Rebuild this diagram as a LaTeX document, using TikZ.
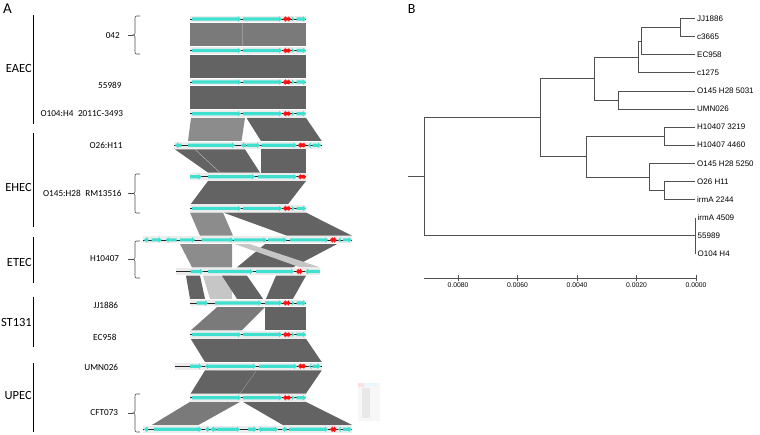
\documentclass[tikz,border=0pt]{standalone}
\usepackage{fontspec}
\setmainfont{Carlito}
\newfontfamily\arialfont{Liberation Sans}
\usepackage{tikz}
\usetikzlibrary{positioning,calc}

\definecolor{genecyan}{HTML}{40E0D0}
\definecolor{redgene}{HTML}{FF1010}
\definecolor{banddark}{HTML}{636363}
\definecolor{bandmid}{HTML}{7A7A7A}
\definecolor{bandlight}{HTML}{8C8C8C}
\definecolor{bandpale}{HTML}{C6C6C6}
\definecolor{treeline}{HTML}{505050}

% gene arrows on a track: {y}{x from}{x to}
\newcommand{\genefw}[3]{\fill[genecyan] (#2,#1-1.6) -- (#3-3,#1-1.6) -- (#3-3,#1-2.8) -- (#3,#1) -- (#3-3,#1+2.8) -- (#3-3,#1+1.6) -- (#2,#1+1.6) -- cycle;}
\newcommand{\genebw}[3]{\fill[genecyan] (#3,#1-1.6) -- (#2+3,#1-1.6) -- (#2+3,#1-2.8) -- (#2,#1) -- (#2+3,#1+2.8) -- (#2+3,#1+1.6) -- (#3,#1+1.6) -- cycle;}
\newcommand{\genedbl}[3]{\fill[redgene] (#2,#1) -- (#2+2.5,#1-2.9) -- (#2+2.5,#1-1.7) -- (#3-2.5,#1-1.7) -- (#3-2.5,#1-2.9) -- (#3,#1) -- (#3-2.5,#1+2.9) -- (#3-2.5,#1+1.7) -- (#2+2.5,#1+1.7) -- (#2+2.5,#1+2.9) -- cycle;}
\newcommand{\trackbar}[3]{\fill[gray!15] (#2,#1-3.4) rectangle (#3,#1+3.4); \draw[black!85, line width=0.6pt] (#2,#1) -- (#3,#1);}
\newcommand{\stdgenes}[1]{\trackbar{#1}{190}{306}\genefw{#1}{192}{241}\genefw{#1}{243}{282}\genedbl{#1}{283}{291}\genefw{#1}{292}{294.5}\genefw{#1}{296.5}{306}}
% homology band: {colour}{upper track y}{lower track y}{top left}{top right}{bottom left}{bottom right}
\newcommand{\bandpoly}[7]{\fill[#1] (#4,#2+4.2) -- (#5,#2+4.2) -- (#7,#3-4.2) -- (#6,#3-4.2) -- cycle;}
% brace: {top}{bottom}
\newcommand{\strainbrace}[2]{\pgfmathsetmacro\bmid{(#1+#2)/2}
  \draw[bracestyle] (140,#1) -- (136.5,#1) to[out=180,in=90] (135,#1+2) -- (135,\bmid-2) to[out=-90,in=0] (133,\bmid) to[out=0,in=90] (135,\bmid+2) -- (135,#2-2) to[out=-90,in=180] (136.5,#2) -- (140,#2);
  \draw[bracestyle] (128,\bmid) -- (133,\bmid);}

\begin{document}
\begin{tikzpicture}[x=1pt,y=-1pt,
  grouplab/.style={anchor=east, font=\fontsize{12.5}{14}\selectfont, inner sep=0.5pt},
  strainlab/.style={anchor=east, font=\fontsize{9.2}{11}\selectfont, inner sep=0pt},
  panellab/.style={font=\fontsize{15}{17}\selectfont, inner sep=0pt},
  groupbar/.style={line width=1.2pt},
  bracestyle/.style={draw=black!70, line width=0.6pt},
  leaf/.style={anchor=west, font=\arialfont\fontsize{8}{9}\selectfont, inner xsep=2pt, inner ysep=0pt},
  treeedge/.style={draw=treeline, line width=0.7pt},
  ticklab/.style={anchor=north, font=\arialfont\fontsize{6.8}{8}\selectfont, inner sep=0pt}]
\useasboundingbox (0,0) rectangle (760,435);

% panel A
\node[panellab] (panA) at (7.5,8.3) {A};

\draw[groupbar] (33.5,15) -- (33.5,124);
\draw[groupbar] (33.5,133) -- (33.5,227);
\draw[groupbar] (33.5,237) -- (33.5,283);
\draw[groupbar] (33.5,297) -- (33.5,347);
\draw[groupbar] (33.5,363) -- (33.5,432);
\node[grouplab] (eaec) at (32.5,68) {EAEC};
\node[grouplab] (ehec) at (32.5,187) {EHEC};
\node[grouplab] (etec) at (32.5,262) {ETEC};
\node[grouplab] (st131) at (32.5,322) {ST131};
\node[grouplab] (upec) at (32.5,395) {UPEC};

\node[strainlab] (s042) at (120,36) {042};
\node[strainlab] (s55989) at (121.7,85) {55989};
\node[strainlab] (sO104) at (123.3,113.3) {O104:H4\hspace{0.5em}2011C-3493};
\node[strainlab] (sO26) at (122.7,145) {O26:H11};
\node[strainlab] (sO145) at (121.7,193) {O145:H28\hspace{0.5em}RM13516};
\node[strainlab] (sH10407) at (119.3,259) {H10407};
\node[strainlab] (sJJ) at (118.3,305) {JJ1886};
\node[strainlab] (sEC) at (116.7,337) {EC958};
\node[strainlab] (sUMN) at (118.3,367) {UMN026};
\node[strainlab] (sCFT) at (118.3,413) {CFT073};

\strainbrace{16}{54}
\strainbrace{174}{213}
\strainbrace{241}{278}
\strainbrace{394}{432}

\def\ya{19}\def\yb{50.6}\def\yc{82.1}\def\yd{113.7}\def\ye{145.2}\def\yf{176.8}\def\yg{208.4}
\def\yh{239.9}\def\yi{271.5}\def\yj{303}\def\yk{334.6}\def\yl{366.2}\def\ym{397.7}\def\yn{429.3}

% bands
\bandpoly{bandmid}{\ya}{\yb}{190}{306}{190}{306}
\draw[black!40, line width=0.4pt] (241.7,\ya+4.2) -- (241.7,\yb-4.2);
\bandpoly{banddark}{\yb}{\yc}{190}{306}{190}{306}
\bandpoly{banddark}{\yc}{\yd}{190}{306}{190}{306}
\bandpoly{bandlight}{\yd}{\ye}{191}{245}{188}{241.5}
\bandpoly{banddark}{\yd}{\ye}{246.5}{306}{261}{321.7}
\bandpoly{banddark}{\ye}{\yf}{175}{245}{208}{260}
\draw[black!25, line width=0.4pt] (195,\ye+4.2) -- (220,\yf-4.2);
\bandpoly{banddark}{\ye}{\yf}{261}{306}{261}{306}
\bandpoly{banddark}{\yf}{\yg}{208}{306}{190.7}{288}
\bandpoly{bandlight}{\yg}{\yh}{190}{223}{200}{233}
\bandpoly{banddark}{\yg}{\yh}{223.5}{306}{287}{352}
\bandpoly{bandlight}{\yh}{\yi}{180}{232}{192}{232}
\bandpoly{banddark}{\yh}{\yi}{265}{337}{237}{293}
\bandpoly{bandpale}{\yh}{\yi}{235}{250}{300}{320}
\bandpoly{banddark}{\yi}{\yj}{186}{200}{190}{205}
\bandpoly{bandpale}{\yi}{\yj}{203}{232}{210}{232}
\bandpoly{banddark}{\yi}{\yj}{222}{247}{237}{263}
\bandpoly{banddark}{\yi}{\yj}{276}{306}{266}{293}
\bandpoly{bandmid}{\yj}{\yk}{217}{265}{190.7}{241.7}
\bandpoly{banddark}{\yj}{\yk}{265}{306}{265}{306}
\bandpoly{banddark}{\yk}{\yl}{190.7}{306}{205}{321.7}
\bandpoly{banddark}{\yl}{\ym}{205}{321.7}{190.7}{306}
\draw[black!40, line width=0.4pt] (256.7,\yl+4.2) -- (240,\ym-4.2);
\bandpoly{bandmid}{\ym}{\yn}{190}{240}{151.7}{198.3}
\bandpoly{banddark}{\ym}{\yn}{243}{306}{283}{352.3}

% tracks
\stdgenes{\ya}
\stdgenes{\yb}
\stdgenes{\yc}
\stdgenes{\yd}
\trackbar{\ye}{174}{322}
\genebw{\ye}{175}{181.7}\genefw{\ye}{188}{235}\genebw{\ye}{241}{246}\genefw{\ye}{246.7}{260}
\genefw{\ye}{261.7}{296.7}\genedbl{\ye}{298}{306}\genebw{\ye}{308}{310.5}\genefw{\ye}{312.7}{321}
\trackbar{\yf}{190}{306}
\genefw{\yf}{190}{201.7}\genefw{\yf}{208}{255}\genefw{\yf}{258}{296.7}\genedbl{\yf}{298}{306}
\stdgenes{\yg}
\trackbar{\yh}{143}{352}
\genebw{\yh}{144}{148.3}\genefw{\yh}{151.7}{161.7}\genebw{\yh}{165.7}{176.7}\genefw{\yh}{180}{195}
\genefw{\yh}{201.7}{233.3}\genefw{\yh}{233.8}{266.7}\genefw{\yh}{268}{286.7}\genefw{\yh}{290}{328}
\genedbl{\yh}{330}{336.7}\genebw{\yh}{338}{340.5}\genefw{\yh}{343}{351.7}
\trackbar{\yi}{176}{320}
\genefw{\yi}{190.7}{203}\genefw{\yi}{208}{253}\genefw{\yi}{256}{294}\genedbl{\yi}{296}{302.7}\genebw{\yi}{305}{320}
\trackbar{\yj}{190}{306}
\genefw{\yj}{196.7}{208}\genefw{\yj}{215}{261.5}\genefw{\yj}{265}{282}\genedbl{\yj}{283}{290.5}
\genefw{\yj}{292}{294.5}\genefw{\yj}{296.5}{306}
\stdgenes{\yk}
\trackbar{\yl}{175}{321.7}
\genefw{\yl}{190}{202}\genebw{\yl}{205}{207.5}\genefw{\yl}{208}{256}\genefw{\yl}{259}{297}
\genedbl{\yl}{298}{306}\genebw{\yl}{308.5}{310.5}\genefw{\yl}{312.7}{320.7}
\stdgenes{\ym}
\trackbar{\yn}{143}{352}
\genebw{\yn}{144}{148}\genefw{\yn}{154}{201.7}\genebw{\yn}{205}{209}\genebw{\yn}{210.5}{216}
\genefw{\yn}{216.7}{240}\genefw{\yn}{248}{256.7}\genebw{\yn}{258}{263}\genefw{\yn}{263}{278}
\genebw{\yn}{282}{286.7}\genefw{\yn}{289}{328}\genedbl{\yn}{330}{336.7}\genebw{\yn}{338}{340.5}
\genefw{\yn}{343}{351.7}

% faint smudge
\fill[gray!6] (358,383) rectangle (380,421);
\fill[gray!18] (362,388) rectangle (370,418);
\fill[red!12] (358,383) rectangle (364,386.5);
\fill[cyan!10] (364,383) rectangle (378,386);

% panel B
\node[panellab, font=\fontsize{14}{16}\selectfont] (panB) at (411.7,8.7) {B};

\node[leaf] (l1) at (695,18.5) {JJ1886};
\node[leaf] (l2) at (695,36.6) {c3665};
\node[leaf] (l3) at (695,54.7) {EC958};
\node[leaf] (l4) at (695,72.8) {c1275};
\node[leaf] (l5) at (695,90.9) {O145 H28 5031};
\node[leaf] (l6) at (695,109) {UMN026};
\node[leaf] (l7) at (695,127.1) {H10407 3219};
\node[leaf] (l8) at (695,145.2) {H10407 4460};
\node[leaf] (l9) at (695,163.3) {O145 H28 5250};
\node[leaf] (l10) at (695,181.4) {O26 H11};
\node[leaf] (l11) at (695,199.5) {irmA 2244};
\node[leaf] (l12) at (695.5,217.6) {irmA 4509};
\node[leaf] (l13) at (695.5,235.7) {55989};
\node[leaf] (l14) at (695.5,253.8) {O104 H4};

\coordinate (G) at (680,27.55);
\coordinate (F) at (641,41.1);
\coordinate (D) at (638,56.95);
\coordinate (E) at (618,99.95);
\coordinate (B) at (594,78.45);
\coordinate (H) at (664,136.15);
\coordinate (J) at (664,190.45);
\coordinate (I) at (649,176.9);
\coordinate (C) at (586,156.5);
\coordinate (A) at (540,117.5);
\coordinate (R) at (424,176.6);
\coordinate (R0) at (408,176.6);

\draw[treeedge] (G) |- (l1.west) (G) |- (l2.west);
\draw[treeedge] (F) |- (G) (F) |- (l3.west);
\draw[treeedge] (D) |- (F) (D) |- (l4.west);
\draw[treeedge] (E) |- (l5.west) (E) |- (l6.west);
\draw[treeedge] (B) |- (D) (B) |- (E);
\draw[treeedge] (H) |- (l7.west) (H) |- (l8.west);
\draw[treeedge] (J) |- (l10.west) (J) |- (l11.west);
\draw[treeedge] (I) |- (l9.west) (I) |- (J);
\draw[treeedge] (C) |- (H) (C) |- (I);
\draw[treeedge] (A) |- (B) (A) |- (C);
\draw[treeedge] (R) |- (A) (R) |- (l13.west);
\draw[treeedge] (R0) -- (R);
\draw[treeedge] (l12.west) -- (l14.west);

% scale axis
\coordinate (ax0) at (424,278);
\coordinate (ax1) at (696,278);
\draw[treeedge] (ax0) -- (ax1);
\foreach \tx/\tl [count=\k] in {458/0.0080, 517.5/0.0060, 577/0.0040, 636.5/0.0020, 696/0.0000} {
  \draw[treeedge] (\tx,275) -- (\tx,281);
  \node[ticklab] (tick\k) at (\tx,282.5) {\tl};
}
\end{tikzpicture}
\end{document}
